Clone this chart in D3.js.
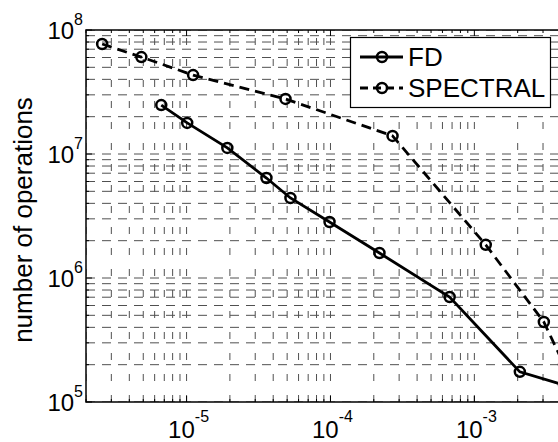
<!DOCTYPE html>
<html>
<head>
<meta charset="utf-8">
<script src="https://cdn.jsdelivr.net/npm/d3@7"></script>
<style>
  body { margin: 0; background: #fff; }
  svg { display: block; }
</style>
</head>
<body>
<div id="grafico"></div>
<script>
// Tamaño de la figura
const w = 558;
const h = 442;

// Area de la grafica (en pixeles)
const izq = 86;
const der = 561;
const arriba = 30;
const abajo = 402;

// Limites de los ejes
const minX = 2e-6;
const maxX = 4e-3;
const minY = 1e5;
const maxY = 1e8;

// Etiquetas de los ejes (exponentes)
const xTickExp = [-5, -4, -3];
const yTickExp = [5, 6, 7, 8];

// Series de datos
const fdX = [6.67e-6, 1.01e-5, 1.92e-5, 3.59e-5, 5.27e-5, 9.85e-5, 2.19e-4, 6.73e-4, 2.07e-3, 4.2e-3];
const fdY = [2.48e7, 1.78e7, 1.12e7, 6.4e6, 4.42e6, 2.83e6, 1.59e6, 7.03e5, 1.75e5, 1.37e5];
const specX = [2.59e-6, 4.85e-6, 1.11e-5, 4.87e-5, 2.70e-4, 1.20e-3, 3.04e-3, 4.2e-3];
const specY = [7.71e7, 6.05e7, 4.33e7, 2.78e7, 1.40e7, 1.85e6, 4.42e5, 2.0e5];

const nombres = ['FD', 'SPECTRAL'];
const estilos = ['none', '10,6'];

const fuente = "'Liberation Sans', Arial, sans-serif";

const xScale = d3.scaleLog().domain([minX, maxX]).range([izq, der]);
const yScale = d3.scaleLog().domain([minY, maxY]).range([abajo, arriba]);

const svg = d3.select('#grafico')
  .append('svg')
  .attr('width', w)
  .attr('height', h);

svg.append('defs').append('clipPath')
  .attr('id', 'recorte')
  .append('rect')
  .attr('x', izq).attr('y', arriba)
  .attr('width', der - izq).attr('height', abajo - arriba);

// Posiciones de la cuadricula (decadas y subdivisiones)
function marcas(min, max) {
  const res = [];
  for (let e = Math.floor(Math.log10(min)); e <= Math.ceil(Math.log10(max)); e++) {
    for (let k = 1; k <= 9; k++) {
      const v = k * Math.pow(10, e);
      if (v >= min * 0.999 && v <= max * 1.001) res.push({ v: v, mayor: k === 1 });
    }
  }
  return res;
}
const gx = marcas(minX, maxX);
const gy = marcas(minY, maxY);

// Cuadricula
const grid = svg.append('g').attr('clip-path', 'url(#recorte)');
grid.selectAll('.gv')
  .data(gx)
  .enter()
  .append('line')
  .attr('x1', (d) => xScale(d.v)).attr('x2', (d) => xScale(d.v))
  .attr('y1', abajo).attr('y2', arriba)
  .attr('stroke', '#505050')
  .attr('stroke-width', 1)
  .attr('stroke-dasharray', '7,14');

grid.selectAll('.gh')
  .data(gy)
  .enter()
  .append('line')
  .attr('y1', (d) => yScale(d.v)).attr('y2', (d) => yScale(d.v))
  .attr('x1', izq).attr('x2', der)
  .attr('stroke', '#505050')
  .attr('stroke-width', 1)
  .attr('stroke-dasharray', '9,7');

// Marcas hacia dentro en los bordes
const ticks = svg.append('g').attr('stroke', '#000').attr('stroke-width', 1);
gx.forEach(function (d) {
  const L = d.mayor ? 6 : 3;
  ticks.append('line').attr('x1', xScale(d.v)).attr('x2', xScale(d.v))
    .attr('y1', abajo).attr('y2', abajo - L);
  ticks.append('line').attr('x1', xScale(d.v)).attr('x2', xScale(d.v))
    .attr('y1', arriba).attr('y2', arriba + L);
});
gy.forEach(function (d) {
  const L = d.mayor ? 6 : 3;
  ticks.append('line').attr('y1', yScale(d.v)).attr('y2', yScale(d.v))
    .attr('x1', izq).attr('x2', izq + L);
});

// Series
const series = [
  d3.zip(fdX, fdY),
  d3.zip(specX, specY)
];

const linea = d3.line()
  .x((d) => xScale(d[0]))
  .y((d) => yScale(d[1]));

const trazos = svg.append('g').attr('clip-path', 'url(#recorte)');
series.forEach(function (s, i) {
  trazos.append('path')
    .datum(s)
    .attr('fill', 'none')
    .attr('stroke', '#000')
    .attr('stroke-width', 2.8)
    .attr('stroke-dasharray', estilos[i])
    .attr('d', linea);

  trazos.selectAll('.m' + i)
    .data(s)
    .enter()
    .append('circle')
    .attr('cx', (d) => xScale(d[0]))
    .attr('cy', (d) => yScale(d[1]))
    .attr('r', 5)
    .attr('fill', 'none')
    .attr('stroke', '#000')
    .attr('stroke-width', 2.5);
});

// Bordes de los ejes
svg.append('path')
  .attr('d', 'M' + der + ',' + arriba + 'H' + izq + 'V' + abajo + 'H' + der)
  .attr('fill', 'none')
  .attr('stroke', '#000')
  .attr('stroke-width', 1.5);

// Etiquetas del eje X
xTickExp.forEach(function (e) {
  const t = svg.append('text')
    .attr('x', xScale(Math.pow(10, e)) + 2)
    .attr('y', 438)
    .attr('text-anchor', 'middle')
    .style('font-family', fuente)
    .style('font-size', '24px');
  t.append('tspan').text('10');
  t.append('tspan').attr('dy', -16).style('font-size', '16px').text(e);
});

// Etiquetas del eje Y
yTickExp.forEach(function (e) {
  const t = svg.append('text')
    .attr('x', 83)
    .attr('y', yScale(Math.pow(10, e)) + 9)
    .attr('text-anchor', 'end')
    .style('font-family', fuente)
    .style('font-size', '24px');
  t.append('tspan').text('10');
  t.append('tspan').attr('dy', -14).style('font-size', '16px').text(e);
});

// Titulo del eje Y
svg.append('text')
  .attr('text-anchor', 'middle')
  .attr('transform', 'translate(32,220)rotate(-90)')
  .style('font-family', fuente)
  .style('font-size', '26px')
  .text('number of operations');

// Leyenda
const ley = svg.append('g');
ley.append('rect')
  .attr('x', 350.5).attr('y', 37.5)
  .attr('width', 200).attr('height', 70)
  .attr('fill', '#fff')
  .attr('stroke', '#000')
  .attr('stroke-width', 1.2);

nombres.forEach(function (n, i) {
  const yy = 57 + i * 31;
  ley.append('line')
    .attr('x1', 360).attr('x2', 403)
    .attr('y1', yy).attr('y2', yy)
    .attr('stroke', '#000')
    .attr('stroke-width', 2.8)
    .attr('stroke-dasharray', estilos[i] === 'none' ? null : '8,5');
  ley.append('circle')
    .attr('cx', 382).attr('cy', yy)
    .attr('r', 5)
    .attr('fill', 'none')
    .attr('stroke', '#000')
    .attr('stroke-width', 2.5);
  ley.append('text')
    .attr('x', 408)
    .attr('y', yy + 9)
    .style('font-family', fuente)
    .style('font-size', '26px')
    .text(n);
});
</script>
</body>
</html>
